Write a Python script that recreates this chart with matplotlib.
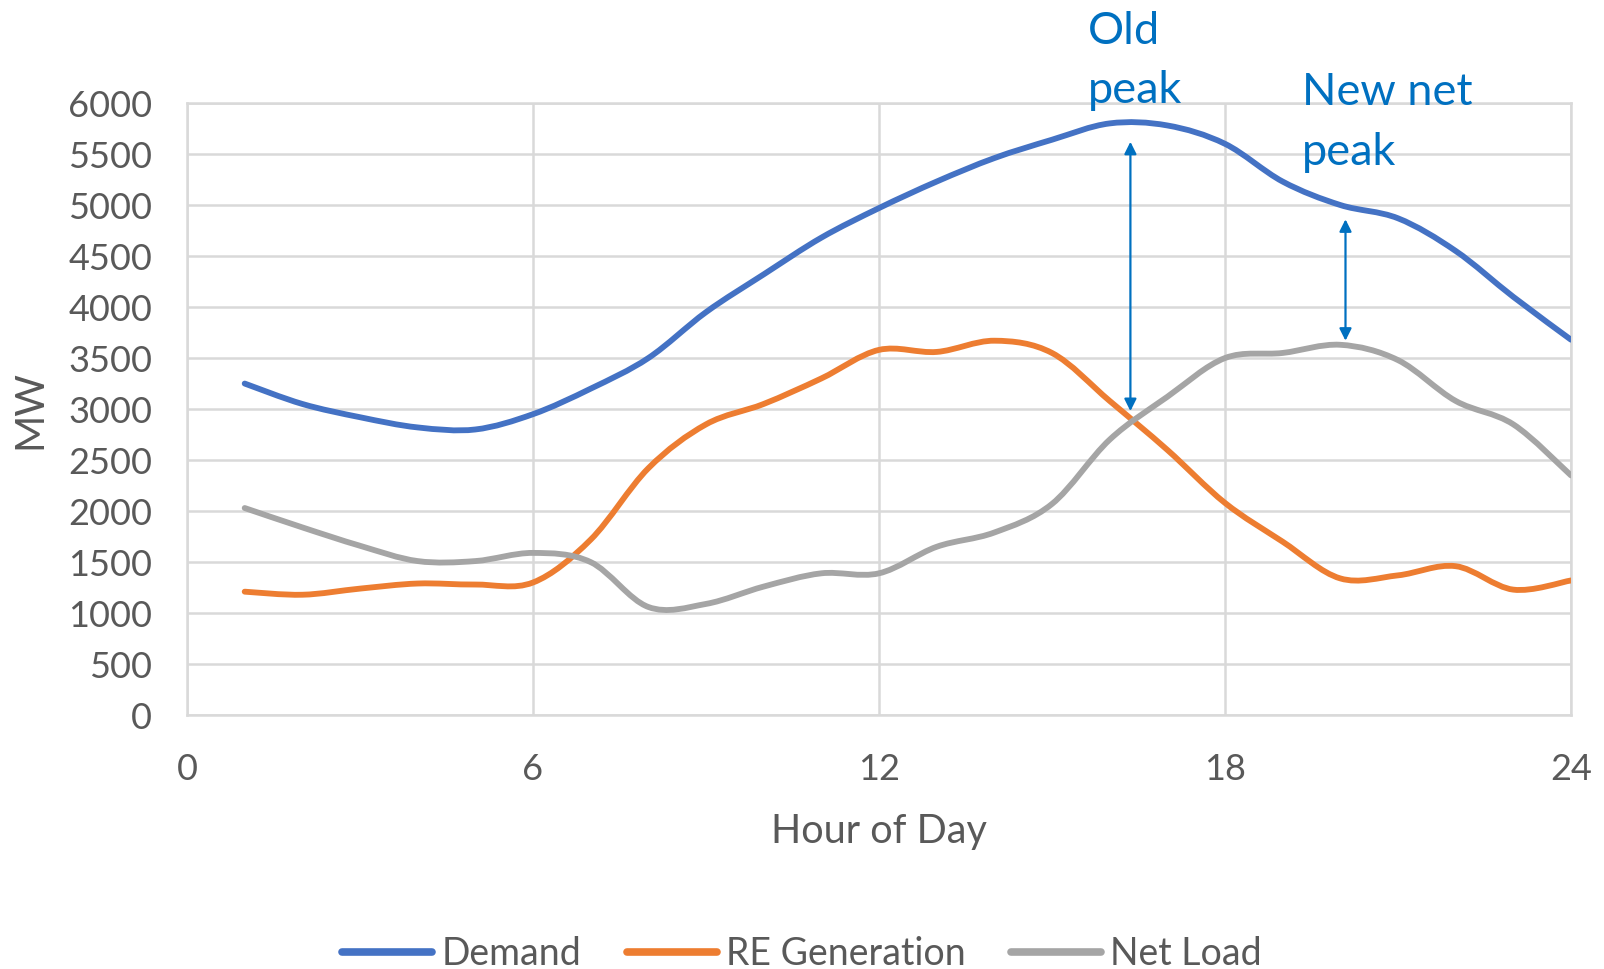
import matplotlib.pyplot as plt
from matplotlib.path import Path
from matplotlib.patches import PathPatch
from matplotlib.lines import Line2D

# Hourly profile, hours 1..24 (MW)
hours = list(range(1, 25))
demand = [3250, 3050, 2920, 2820, 2800, 2950, 3200, 3500, 3950, 4320, 4680, 4970,
          5230, 5460, 5640, 5800, 5780, 5600, 5230, 5000, 4870, 4550, 4100, 3680]
re_generation = [1210, 1180, 1240, 1290, 1280, 1300, 1720, 2420, 2850, 3050, 3300, 3580,
                 3560, 3670, 3550, 3080, 2600, 2080, 1700, 1340, 1370, 1460, 1230, 1320]
net_load = [2030, 1840, 1660, 1510, 1510, 1590, 1500, 1060, 1090, 1260, 1390, 1390,
            1650, 1790, 2070, 2700, 3120, 3500, 3550, 3630, 3480, 3080, 2850, 2350]

series_names = ["Demand", "RE Generation", "Net Load"]
series_colors = ["#4472C4", "#ED7D31", "#A5A5A5"]
x_ticks = [0, 6, 12, 18, 24]
y_ticks = list(range(0, 6001, 500))

TEXT_GREY = "#595959"
NOTE_BLUE = "#0070C0"

plt.rcParams['font.family'] = ['Lato', 'DejaVu Sans']


def smooth_path(xs, ys):
    """Catmull-Rom style bezier through the points (like a smoothed spreadsheet line)."""
    pts = list(zip(xs, ys))
    n = len(pts)
    verts = [pts[0]]
    codes = [Path.MOVETO]
    for i in range(n - 1):
        p0 = pts[max(i - 1, 0)]
        p1 = pts[i]
        p2 = pts[i + 1]
        p3 = pts[min(i + 2, n - 1)]
        c1 = (p1[0] + (p2[0] - p0[0]) / 6, p1[1] + (p2[1] - p0[1]) / 6)
        c2 = (p2[0] - (p3[0] - p1[0]) / 6, p2[1] - (p3[1] - p1[1]) / 6)
        verts += [c1, c2, p2]
        codes += [Path.CURVE4] * 3
    return Path(verts, codes)


fig = plt.figure(figsize=(16.04, 9.69), dpi=100)
ax = fig.add_axes([0.1166, 0.262, 0.8628, 0.6317])

for vals, color in zip([demand, re_generation, net_load], series_colors):
    patch = PathPatch(smooth_path(hours, vals), facecolor='none', edgecolor=color,
                      lw=4.2, capstyle='round', joinstyle='round', zorder=3)
    ax.add_patch(patch)

ax.set_xlim(0, 24)
ax.set_ylim(0, 6000)
ax.set_xticks(x_ticks)
ax.set_yticks(y_ticks)
ax.grid(True, color="#D9D9D9", lw=1.8)
ax.set_axisbelow(True)
for spine in ax.spines.values():
    spine.set_color("#D9D9D9")
    spine.set_linewidth(1.8)
ax.tick_params(length=0, labelsize=26, labelcolor=TEXT_GREY)
ax.tick_params(axis='y', pad=25)
ax.tick_params(axis='x', pad=27)

ax.set_xlabel("Hour of Day", fontsize=28.5, color=TEXT_GREY, labelpad=20)
ax.set_ylabel("MW", fontsize=29, color=TEXT_GREY, labelpad=14)

# Peak annotations
ax.annotate("", xy=(16.36, 5620), xytext=(16.36, 2980),
            arrowprops=dict(arrowstyle='<|-|>', color=NOTE_BLUE, lw=1.6,
                            mutation_scale=18, shrinkA=0, shrinkB=0))
ax.annotate("", xy=(20.09, 4860), xytext=(20.09, 3670),
            arrowprops=dict(arrowstyle='<|-|>', color=NOTE_BLUE, lw=1.6,
                            mutation_scale=18, shrinkA=0, shrinkB=0))
ax.text(15.62, 6900, "Old\npeak", fontsize=32.5, color=NOTE_BLUE, va='top', ha='left',
        linespacing=1.55, clip_on=False)
ax.text(19.33, 6300, "New net\npeak", fontsize=32.5, color=NOTE_BLUE, va='top', ha='left',
        linespacing=1.55, clip_on=False)

handles = [Line2D([], [], color=c, lw=5.5, solid_capstyle='round') for c in series_colors]
leg = fig.legend(handles, series_names, loc='lower center', bbox_to_anchor=(0.5, -0.038),
                 ncol=3, frameon=False, fontsize=27, handlelength=2.4,
                 handletextpad=0.25, columnspacing=1.2)
for t in leg.get_texts():
    t.set_color(TEXT_GREY)

fig.savefig("out.png", dpi=100)
